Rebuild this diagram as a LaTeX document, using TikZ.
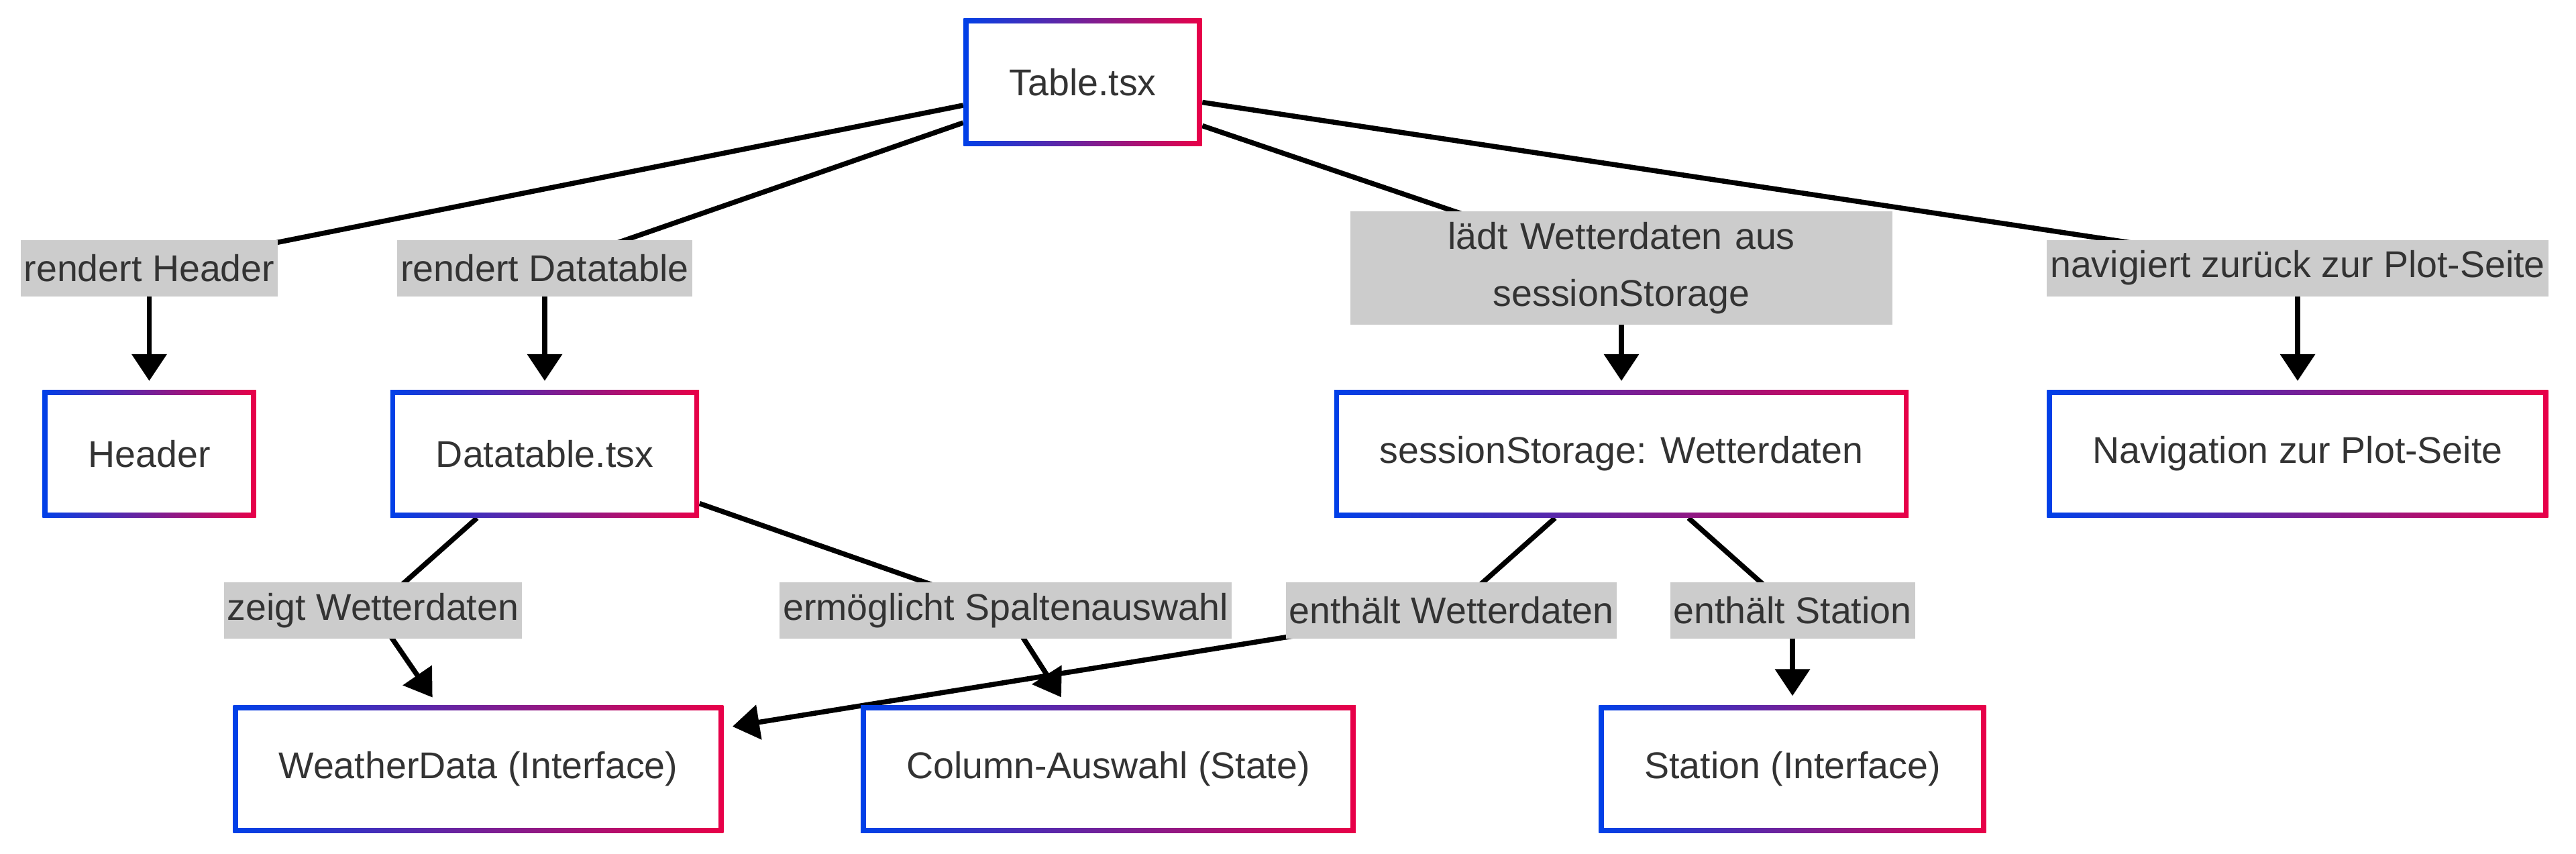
\documentclass[tikz,border=0pt]{standalone}
\usepackage{fontspec}
\setmainfont{Liberation Sans}
\usetikzlibrary{arrows.meta,backgrounds}
\definecolor{gblue}{RGB}{0,64,232}
\definecolor{gred}{RGB}{232,0,72}
\definecolor{lblgray}{RGB}{204,204,204}
\definecolor{txtgray}{RGB}{51,51,51}

\begin{document}
\begin{tikzpicture}[
		every node/.style={font=\fontsize{15.8}{24.2}\selectfont, text=txtgray},
		comp/.style={rectangle, minimum height=1.9cm, inner xsep=0.68cm, inner ysep=0pt,
			left color=gblue, right color=gred,
			path picture={\fill[white] ([shift={(0.075,0.075)}]path picture bounding box.south west)
				rectangle ([shift={(-0.075,-0.075)}]path picture bounding box.north east);}},
		elabel/.style={rectangle, fill=lblgray, inner xsep=0.05cm, inner ysep=0pt, minimum height=0.84cm},
		link/.style={line width=0.075cm},
		arr/.style={link, -{Triangle[length=0.4cm,width=0.51cm]}, shorten >=0.13cm}]
		\useasboundingbox (0,0) rectangle (38.4,12.72);
		% components
		\node[comp] (table) at (16.14,11.495) {Table.tsx};
		\node[comp] (header) at (2.225,5.955) {Header};
		\node[comp] (datatable) at (8.12,5.955) {Datatable.tsx};
		\node[comp] (storage) at (24.17,5.955) {sessionStorage: Wetterdaten};
		\node[comp] (nav) at (34.25,5.955) {Navigation zur Plot-Seite};
		\node[comp] (weather) at (7.13,1.26) {WeatherData (Interface)};
		\node[comp] (colsel) at (16.52,1.26) {Column-Auswahl (State)};
		\node[comp] (station) at (26.72,1.26) {Station (Interface)};
		% edge labels
		\node[elabel] (l1) at (2.225,8.725) {rendert Header};
		\node[elabel] (l2) at (8.12,8.725) {rendert Datatable};
		\node[elabel, text width=7.98cm, align=center, minimum height=1.69cm] (l3) at (24.17,8.725) {lädt Wetterdaten aus\\sessionStorage};
		\node[elabel] (l4) at (34.25,8.725) {navigiert zurück zur Plot-Seite};
		\node[elabel] (l5) at (5.56,3.62) {zeigt Wetterdaten};
		\node[elabel] (l6) at (14.99,3.62) {ermöglicht Spaltenauswahl};
		\node[elabel] (l7) at (21.635,3.62) {enthält Wetterdaten};
		\node[elabel] (l8) at (26.72,3.62) {enthält Station};
		% connectors
		\begin{scope}[on background layer]
		\draw[link] ([yshift=-0.345cm]table.west) -- (l1.center);
		\draw[arr] (l1.center) -- (header.north);
		\draw[link] ([yshift=-0.605cm]table.west) -- (l2.center);
		\draw[arr] (l2.center) -- (datatable.north);
		\draw[link] ([yshift=-0.65cm]table.east) -- (l3.center);
		\draw[arr] (l3.center) -- (storage.north);
		\draw[link] ([yshift=-0.3cm]table.east) -- (l4.center);
		\draw[arr] (l4.center) -- (nav.north);
		\draw[link] ([xshift=-1.01cm]datatable.south) -- (l5.center);
		\draw[arr] (l5.center) -- ([xshift=-0.61cm]weather.north);
		\draw[link] ([yshift=-0.74cm]datatable.east) -- (l6.center);
		\draw[arr] (l6.center) -- ([xshift=-0.63cm]colsel.north);
		\draw[link] ([xshift=-0.99cm]storage.south) -- (l7.center);
		\draw[arr] (l7.center) -- ([yshift=0.61cm]weather.east);
		\draw[link] ([xshift=1.0cm]storage.south) -- (l8.center);
		\draw[arr] (l8.center) -- (station.north);
		\end{scope}
	\end{tikzpicture}
\end{document}
